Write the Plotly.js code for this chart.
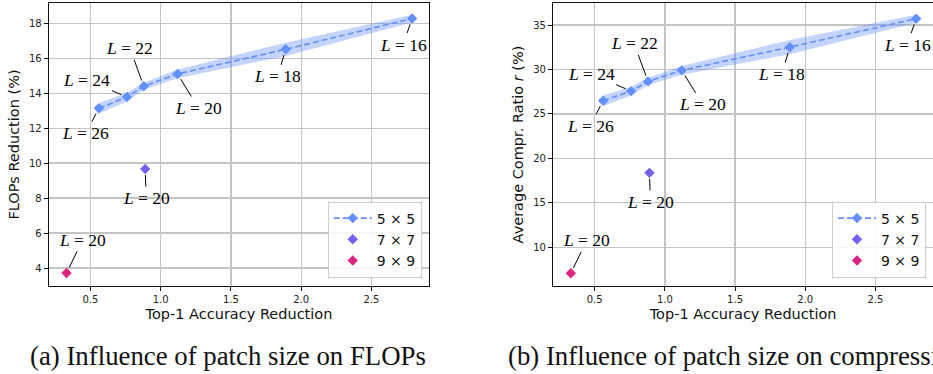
<!DOCTYPE html>
<html><head><meta charset="utf-8">
<script src="https://cdn.plot.ly/plotly-3.0.1.min.js"></script>
<style>body{margin:0;background:#fff}#chart{width:933px;height:374px}</style>
</head><body><div id="chart"></div>
<script>
// ---- data ----
const accDrop5 = [0.56, 0.76, 0.88, 1.12, 1.89, 2.79];
const layers5 = [26, 24, 22, 20, 18, 16];
const flops5 = [13.14, 13.78, 14.40, 15.10, 16.51, 18.27];
const flops5Spread = [0.30, 0.25, 0.20, 0.25, 0.38, 0.22];
const comp5 = [26.48, 27.57, 28.66, 29.90, 32.52, 35.71];
const comp5Spread = [0.60, 0.50, 0.40, 0.50, 0.80, 0.45];
const accDrop7 = [0.89];
const layers7 = [20];
const flops7 = [9.66];
const comp7 = [18.37];
const accDrop9 = [0.33];
const layers9 = [20];
const flops9 = [3.71];
const comp9 = [7.07];
const seriesNames = ['5 × 5', '7 × 7', '9 × 9'];
const xTickVals = [0.5, 1.0, 1.5, 2.0, 2.5];
const flopsTickVals = [4, 6, 8, 10, 12, 14, 16, 18];
const compTickVals = [10, 15, 20, 25, 30, 35];
const xTitleText = 'Top-1 Accuracy Reduction';
const yTitleLeft = 'FLOPs Reduction (%)';
const yTitleRight = 'Average Compr. Ratio <i>r</i> (%)';
const captionA = '(a) Influence of patch size on FLOPs';
const captionB = '(b) Influence of patch size on compression';

// ---- styles / positions ----
const colors = ['#648FFF', '#785EF0', '#DC267F'];
const bandColor = 'rgba(100,143,255,0.38)';
const offsets5 = [[-13, 25], [-40, -17], [-14, -38], [21, 34], [-8, 27], [-9, 26]];
const offset7 = [1, 29];
const offset9 = [16, -33];
const tickFont = {family: 'DejaVu Sans', size: 10, color: '#222'};
const titleFont = {family: 'DejaVu Sans', size: 14.5, color: '#111'};
const labelFont = {family: 'Liberation Serif', size: 17.5, color: '#000'};
const captionFont = {family: 'Liberation Serif', size: 26.8, color: '#111'};

function band(xs, ys, sp, xa, ya) {
  const up = ys.map((v, i) => v + sp[i]);
  const lo = ys.map((v, i) => v - sp[i]);
  return {x: xs.concat(xs.slice().reverse()), y: up.concat(lo.slice().reverse()),
    xaxis: xa, yaxis: ya, type: 'scatter', mode: 'lines', fill: 'toself',
    fillcolor: bandColor, line: {width: 0}, showlegend: false, hoverinfo: 'skip'};
}
function series(xs, ys, idx, xa, ya, leg) {
  const t = {x: xs, y: ys, xaxis: xa, yaxis: ya, type: 'scatter', name: seriesNames[idx],
    legend: leg, marker: {symbol: 'diamond', size: 8, color: colors[idx]}};
  if (idx === 0) { t.mode = 'lines+markers'; t.line = {color: colors[0], width: 1.6, dash: '6px,3px'}; }
  else { t.mode = 'markers'; }
  return t;
}
function labels(xs, ys, Ls, offs, xr, yr) {
  return xs.map((x, i) => ({x: x, y: ys[i], xref: xr, yref: yr,
    text: '<i>L</i> = ' + Ls[i], showarrow: true, arrowhead: 0, arrowwidth: 1,
    arrowcolor: '#000', ax: offs[i][0], ay: offs[i][1], standoff: 6, font: labelFont}));
}

const data = [
  band(accDrop5, flops5, flops5Spread, 'x', 'y'),
  series(accDrop5, flops5, 0, 'x', 'y', 'legend'),
  series(accDrop7, flops7, 1, 'x', 'y', 'legend'),
  series(accDrop9, flops9, 2, 'x', 'y', 'legend'),
  band(accDrop5, comp5, comp5Spread, 'x2', 'y2'),
  series(accDrop5, comp5, 0, 'x2', 'y2', 'legend2'),
  series(accDrop7, comp7, 1, 'x2', 'y2', 'legend2'),
  series(accDrop9, comp9, 2, 'x2', 'y2', 'legend2')
];

function xAxis(domain, anchor) {
  return {domain: domain, anchor: anchor, range: [0.205, 2.91], tickvals: xTickVals,
    tickformat: '.1f', showgrid: true, gridcolor: '#c4c4c4', gridwidth: 1.3,
    zeroline: false, showline: true, mirror: true, linecolor: '#111', linewidth: 1.3,
    ticks: 'outside', ticklen: 4, tickwidth: 1, tickcolor: '#111', tickfont: tickFont,
    title: {text: xTitleText, font: titleFont, standoff: 4}};
}
function yAxis(range, vals, anchor, title) {
  return {domain: [0, 1], anchor: anchor, range: range, tickvals: vals,
    showgrid: true, gridcolor: '#c4c4c4', gridwidth: 1.3, zeroline: false,
    showline: true, mirror: true, linecolor: '#111', linewidth: 1.3,
    ticks: 'outside', ticklen: 4, tickwidth: 1, tickcolor: '#111', tickfont: tickFont,
    title: {text: title, font: titleFont, standoff: 6}};
}
const legendStyle = {bgcolor: 'rgba(255,255,255,0.85)', bordercolor: '#cccccc', borderwidth: 1,
  font: {family: 'DejaVu Sans', size: 14, color: '#111'}, yanchor: 'bottom', xanchor: 'right',
  y: 0.03, tracegroupgap: 0, itemwidth: 38};

const annotations = []
  .concat(labels(accDrop5, flops5, layers5, offsets5, 'x', 'y'))
  .concat(labels(accDrop7, flops7, layers7, [offset7], 'x', 'y'))
  .concat(labels(accDrop9, flops9, layers9, [offset9], 'x', 'y'))
  .concat(labels(accDrop5, comp5, layers5, offsets5, 'x2', 'y2'))
  .concat(labels(accDrop7, comp7, layers7, [offset7], 'x2', 'y2'))
  .concat(labels(accDrop9, comp9, layers9, [offset9], 'x2', 'y2'))
  .concat([
    {text: captionA, xref: 'paper', yref: 'paper', x: 0.03, y: -0.247, xanchor: 'left', yanchor: 'middle',
     showarrow: false, font: captionFont},
    {text: captionB, xref: 'paper', yref: 'paper', x: 0.5423, y: -0.247, xanchor: 'left', yanchor: 'middle',
     showarrow: false, font: captionFont}
  ]);

const layout = {
  width: 933, height: 374, margin: {l: 0, r: 0, t: 3, b: 88},
  paper_bgcolor: '#fff', plot_bgcolor: '#fff',
  xaxis: xAxis([0.0525, 0.4598], 'y'),
  yaxis: yAxis([2.97, 19.16], flopsTickVals, 'x', yTitleLeft),
  xaxis2: xAxis([0.593, 1.0], 'y2'),
  yaxis2: yAxis([5.64, 37.48], compTickVals, 'x2', yTitleRight),
  legend: Object.assign({}, legendStyle, {x: 0.452}),
  legend2: Object.assign({}, legendStyle, {x: 0.9925}),
  annotations: annotations,
  showlegend: true
};
Plotly.newPlot('chart', data, layout, {staticPlot: true, displayModeBar: false});
</script></body></html>
